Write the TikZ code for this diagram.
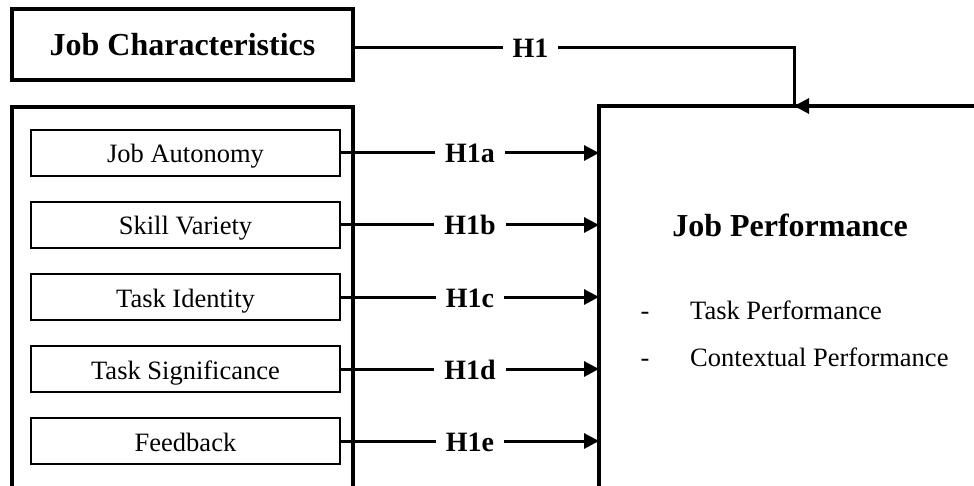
\documentclass[tikz,border=0pt]{standalone}
\usepackage{fontspec}
\setmainfont{Liberation Serif}
\usetikzlibrary{arrows.meta,positioning}

\tikzset{
  frame/.style={line width=3.6pt},
  head/.style={font=\fontsize{32}{36}\selectfont\bfseries},
  factor/.style={draw, line width=2pt, minimum width=309pt, minimum height=46pt,
    inner sep=0pt, font=\fontsize{26.5}{30}\selectfont, text height=24pt, text depth=4pt},
  hyp/.style={fill=white, inner xsep=10pt, inner ysep=2pt, text height=22pt, text depth=2pt,
    font=\fontsize{28}{32}\selectfont\bfseries},
  link/.style={line width=3pt, -{Triangle[length=15pt,width=15pt]}},
  item/.style={font=\fontsize{26.5}{30}\selectfont, inner sep=0pt}
}

\begin{document}
\begin{tikzpicture}[x=1pt,y=-1pt]
\useasboundingbox (0,0) rectangle (974,486);

% outcome frame (open to the right and bottom)
\coordinate (jpcorner) at (599,106);
\coordinate (jpedge) at (974,106);
\coordinate (h1turn) at (794,48);
\coordinate (h1end) at (794,106);
\draw[frame] (599,486) -- (jpcorner) -- (jpedge);

% predictor
\node[draw, frame, minimum width=341pt, minimum height=71pt, head,
  text height=25pt, text depth=2pt] (jc) at (182.5,44.5) {Job Characteristics};
\draw[frame] (12,486) -- (12,107) -- (353,107) -- (353,486);

% overall hypothesis
\draw[line width=3pt] (jc.east |- h1turn) -- node[hyp, pos=0.4] {H1} (h1turn) -- (h1end);
\draw[link] (jpedge) -- (h1end);

% dimensions
\foreach \name/\txt/\hyp [count=\i from 0] in {autonomy/Job Autonomy/H1a,
    variety/Skill Variety/H1b, identity/Task Identity/H1c,
    significance/Task Significance/H1d, feedback/Feedback/H1e}{
  \node[factor] (\name) at (185.5,153+72*\i) {\txt};
  \draw[link] (\name.east) -- node[hyp] {\hyp} (\name.east -| jpcorner);
}

% outcome
\node[head] (jp) at (790,225) {Job Performance};
\node[item, anchor=base west] (taskperf) at (690,319) {Task Performance};
\node[item, anchor=base west] (ctxperf) at (690,366) {Contextual Performance};
\node[item, anchor=base] (dash1) at (645,319) {-};
\node[item, anchor=base] (dash2) at (645,366) {-};
\end{tikzpicture}
\end{document}
